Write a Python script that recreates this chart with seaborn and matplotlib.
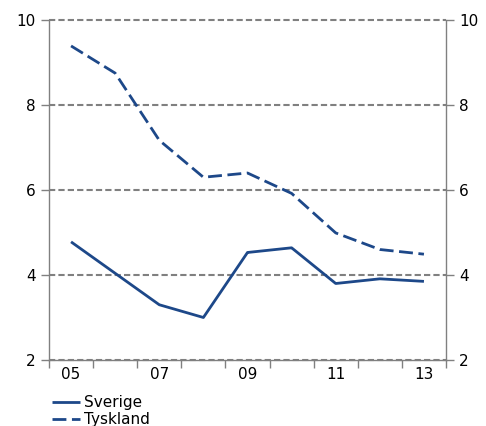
import seaborn as sns
import matplotlib.pyplot as plt
import pandas as pd
from matplotlib.ticker import FixedLocator, NullFormatter

years = [2005, 2006, 2007, 2008, 2009, 2010, 2011, 2012, 2013]
sverige = [4.78, 4.04, 3.30, 3.00, 4.53, 4.64, 3.80, 3.91, 3.85]
tyskland = [9.39, 8.75, 7.17, 6.30, 6.40, 5.92, 4.99, 4.60, 4.49]
year_labels = ['05', '07', '09', '11', '13']

df = pd.DataFrame({'year': years * 2,
                   'value': sverige + tyskland,
                   'land': ['Sverige'] * len(years) + ['Tyskland'] * len(years)})

sns.set_style('white')
plt.rcParams['font.family'] = ['DejaVu Sans']
navy = '#1d4889'
grey = '#808080'

fig = plt.figure(figsize=(4.86, 4.26), dpi=100)
ax = fig.add_axes([49 / 486, 66 / 426, 397 / 486, 340 / 426])

sns.lineplot(data=df, x='year', y='value', hue='land', style='land',
             palette=[navy, navy], dashes=[(1, 0), (5, 2)], linewidth=2,
             ax=ax, legend=True)

ax.set_xlim(2004.5, 2013.5)
ax.set_ylim(2, 10)
ax.set_yticks([2, 4, 6, 8, 10])
for y in [2, 4, 6, 8, 10]:
    ax.axhline(y, color=grey, linestyle=(0, (3, 1.5)), linewidth=1.5, zorder=0, clip_on=False)

ax.xaxis.set_major_locator(FixedLocator([y + 0.5 for y in range(2004, 2014)]))
ax.xaxis.set_major_formatter(NullFormatter())
ax.xaxis.set_minor_locator(FixedLocator([2005, 2007, 2009, 2011, 2013]))
ax.set_xticklabels(year_labels, minor=True)
ax.tick_params(axis='x', which='major', direction='out', length=6, width=1, color=grey, bottom=True)
ax.tick_params(axis='x', which='minor', length=0, labelsize=11, pad=5, labelcolor='black')
ax.tick_params(axis='y', direction='out', length=6, width=1, color=grey, labelsize=11,
               left=True, labelcolor='black')

for side in ['left', 'right', 'bottom']:
    ax.spines[side].set_color(grey)
    ax.spines[side].set_linewidth(1)
ax.spines['top'].set_visible(False)

ax2 = ax.twinx()
ax2.set_ylim(2, 10)
ax2.set_yticks([2, 4, 6, 8, 10])
ax2.tick_params(axis='y', direction='out', length=6, width=1, color=grey, labelsize=11,
                right=True, labelcolor='black')
for s in ax2.spines.values():
    s.set_visible(False)

ax.set_xlabel('')
ax.set_ylabel('')
leg = ax.legend(loc='upper left', bbox_to_anchor=(0.008, -0.104), frameon=False,
                fontsize=11, handlelength=1.8, handletextpad=0.3, labelspacing=0.1,
                borderaxespad=0, borderpad=0)
for t in leg.get_texts():
    t.set_color('black')

fig.savefig('out.png', dpi=100)
